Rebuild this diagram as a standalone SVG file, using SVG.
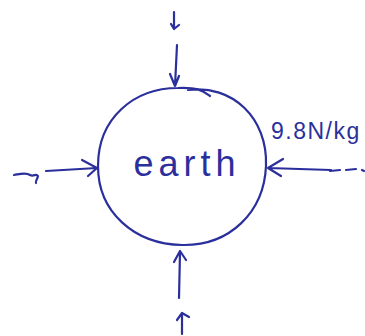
<svg xmlns="http://www.w3.org/2000/svg" width="365" height="336" viewBox="0 0 365 336">
<style>
.ink{fill:none;stroke:#2b2f9c;stroke-width:2.2;stroke-linecap:round;stroke-linejoin:round}
.txt{fill:#2b2f9c;font-family:"Liberation Sans",Arial,sans-serif}
</style>
<rect width="365" height="336" fill="#fff"/>
<g id="earth">
<path class="ink" d="M188,90 C232,84 268,118 266,166 C264,212 230,246 182,245 C134,244 98,212 98,166 C98,118 134,88 178,88 C200,87 204,92 210,96"/>
<text class="txt" x="187" y="176" font-size="36" text-anchor="middle" letter-spacing="5">earth</text>
</g>
<g id="label">
<text class="txt" x="271" y="139" font-size="23" letter-spacing="1.5">9.8N/kg</text>
</g>
<g id="connectors">
<path class="ink" d="M174,12 L174,28 M171,24 L174,29 L179,25"/>
<path class="ink" d="M177,45 L175,86 M170,74 L175,86 L179,76"/>
<path class="ink" d="M14,175 C20,174 26,172 30,175 C34,177 36,173 38,176 C37,180 35,182 36,183"/>
<path class="ink" d="M46,171 L97,168 M82,160 L97,168 L88,176"/>
<path class="ink" d="M331,170 L268,168 M283,159 L268,168 L281,176"/>
<path class="ink" d="M330,171 L340,170 M346,170 L356,169 M362,170 L364,171"/>
<path class="ink" d="M179,298 L180,252 M174,262 L180,251 L186,260"/>
<path class="ink" d="M182,334 L182,314 M177,320 L182,313 L189,317"/>
</g>
</svg>
